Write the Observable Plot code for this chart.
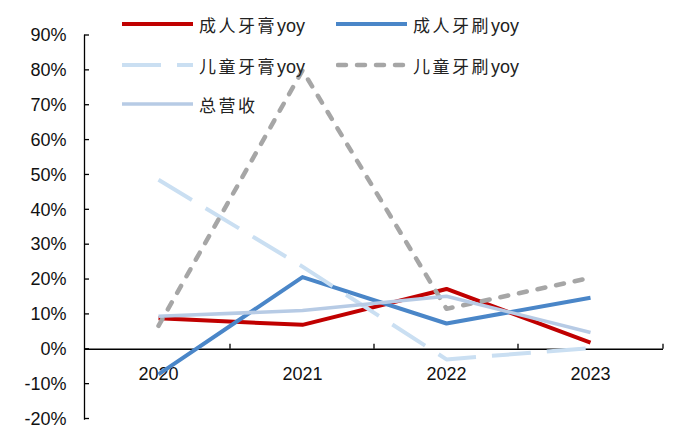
<!DOCTYPE html>
<html><head><meta charset="utf-8">
<script src="https://cdn.jsdelivr.net/npm/d3@7"></script>
<script src="https://cdn.jsdelivr.net/npm/@observablehq/plot@0.6"></script>
<style>
body{margin:0;background:#fff;}
#wrap{position:relative;width:675px;height:432px;overflow:hidden;}
.item{position:absolute;display:flex;align-items:center;height:20px;}
.item .lab{margin-left:6px;white-space:nowrap;color:#222;}
.item .cjk{font-family:"Noto Sans CJK SC",sans-serif;font-size:17px;letter-spacing:2.5px;}
.item .lat{font-family:"Liberation Sans",Arial,sans-serif;font-size:18px;}
</style></head><body><div id="wrap"></div>
<script>
const years = ["2020", "2021", "2022", "2023"];
const adultPaste = [8.9, 7.0, 17.3, 1.9];
const adultBrush = [-7.2, 20.7, 7.4, 14.8];
const kidsPaste = [48.6, 23.7, -2.9, 0.3];
const kidsBrush = [6.7, 80.0, 11.6, 20.5];
const revenue = [9.5, 11.1, 15.2, 4.8];
const yTicks = [-20, -10, 0, 10, 20, 30, 40, 50, 60, 70, 80, 90];
const seriesNames = ["成人牙膏yoy", "成人牙刷yoy", "儿童牙膏yoy", "儿童牙刷yoy", "总营收"];
const seriesValues = [adultPaste, adultBrush, kidsPaste, kidsBrush, revenue];

const styles = [
  {stroke: "#C00000", strokeWidth: 4, strokeLinecap: "butt"},
  {stroke: "#4A86C8", strokeWidth: 4, strokeLinecap: "butt"},
  {stroke: "#CADFF2", strokeWidth: 4, strokeDasharray: "39,16", strokeLinecap: "butt"},
  {stroke: "#A6A6A6", strokeWidth: 4.5, strokeDasharray: "8,11", strokeLinecap: "round"},
  {stroke: "#B7CBE5", strokeWidth: 3.5, strokeLinecap: "butt"}
];

const rows = seriesNames.map((name, i) => years.map((yr, j) => ({series: name, year: yr, value: seriesValues[i][j]})));

const chart = Plot.plot({
  width: 675, height: 432,
  marginLeft: 84, marginRight: 12, marginTop: 35, marginBottom: 13.5,
  x: {type: "band", domain: years, padding: 0, axis: null},
  y: {domain: [-20, 90], axis: null},
  style: {fontFamily: "'Liberation Sans', Arial, sans-serif", fontSize: "18px", color: "#000", background: "#fff"},
  marks: [
    Plot.axisY(yTicks, {tickSize: 0, tickPadding: 18, tickFormat: d => d + "%", fontSize: 18, fill: "#111", label: null}),
    Plot.frame({anchor: "left", stroke: "#000", strokeWidth: 1.3}),
    Plot.ruleY([0], {stroke: "#000", strokeWidth: 1.3}),
    Plot.text(years, {x: d => d, y: () => 0, dy: 25, fontSize: 18, fill: "#111"}),
    ...rows.map((r, i) => Plot.line(r, {x: "year", y: "value", ...styles[i], strokeLinejoin: "round"}))
  ]
});

// axis tick marks drawn from the chart's own scales
const sx = chart.scale("x"), sy = chart.scale("y");
const svg = d3.select(chart);
const g = svg.append("g").attr("stroke", "#000").attr("stroke-width", 1.3);
const x0 = sx.range[0];
yTicks.forEach(v => {
  const yy = sy.apply(v);
  g.append("line").attr("x1", x0).attr("x2", x0 + 5).attr("y1", yy).attr("y2", yy);
});
const y0 = sy.apply(0);
years.slice(1).map(yr => sx.apply(yr)).concat([sx.range[1]]).forEach(xx => {
  g.append("line").attr("x1", xx).attr("x2", xx).attr("y1", y0).attr("y2", y0 - 5);
});

const wrap = document.getElementById("wrap");
wrap.appendChild(chart);

// legend
const legendPos = [[122, 24], [336, 24], [122, 65], [336, 65], [122, 104]];
seriesNames.forEach((name, i) => {
  const div = document.createElement("div");
  div.className = "item";
  div.style.left = legendPos[i][0] + "px";
  div.style.top = (legendPos[i][1] - 10) + "px";
  const s = styles[i];
  const m = name.match(/^([^A-Za-z]+)([A-Za-z]*)$/);
  const cjk = m ? m[1] : name, lat = m ? m[2] : "";
  div.innerHTML = `<svg width="71" height="20"><line x1="${s.strokeLinecap === "round" ? 2 : 0}" x2="71" y1="10" y2="10" stroke="${s.stroke}" stroke-width="${s.strokeWidth}" ${s.strokeDasharray ? `stroke-dasharray="${s.strokeDasharray}"` : ""} stroke-linecap="${s.strokeLinecap}"/></svg><span class="lab"><span class="cjk">${cjk}</span>${lat ? `<span class="lat">${lat}</span>` : ""}</span>`;
  wrap.appendChild(div);
});
</script>
</body></html>
